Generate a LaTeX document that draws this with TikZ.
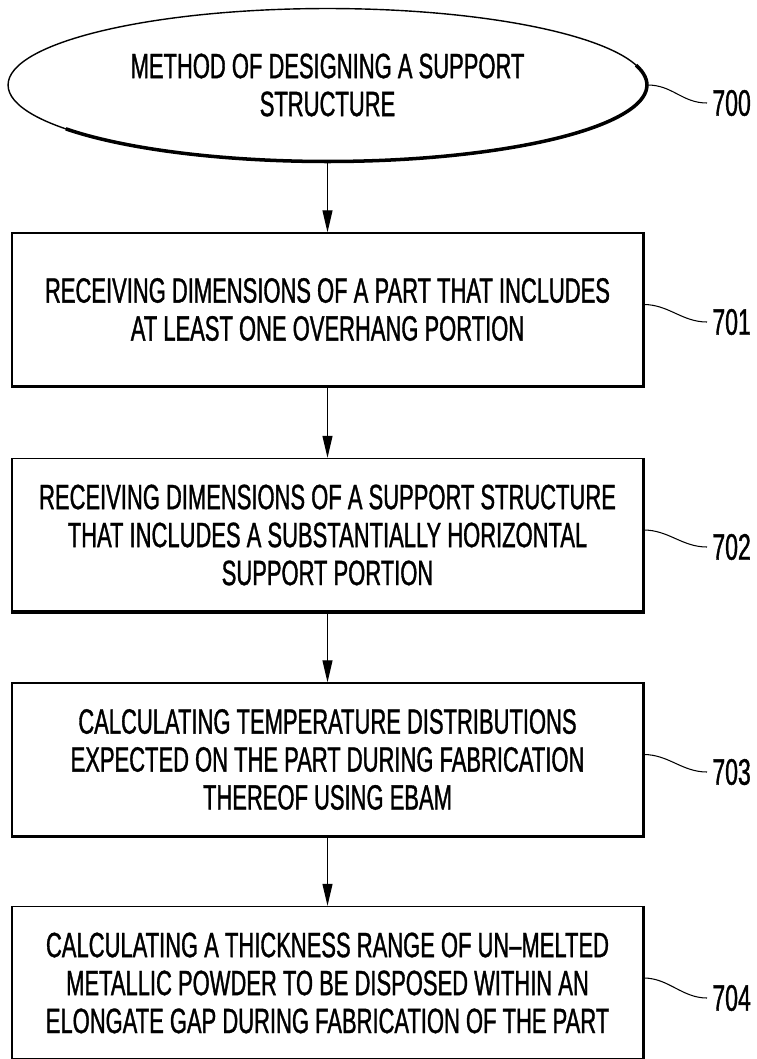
\documentclass[tikz,border=0pt]{standalone}
\usepackage{fontspec}
\setmainfont{Liberation Sans}[FakeStretch=0.625,FakeBold=1]
\usetikzlibrary{arrows.meta,shapes.geometric}

\begin{document}
\begin{tikzpicture}
    [
        x=0.02cm, y=-0.02cm,
        start_style/.style={ellipse, draw=black, line width=0.8pt, minimum width=12.78cm, minimum height=3.06cm, align=center, font=\fontsize{20pt}{21.6pt}\selectfont},
        box_style/.style={rectangle, draw=black, line width=0.8pt, minimum width=12.62cm, minimum height=3.06cm, align=center, font=\fontsize{20pt}{21.6pt}\selectfont},
        heavy_style/.style={draw=black, line width=2pt},
        arrow_style/.style={draw=black, line width=0.6pt, -{Triangle[length=4.4mm,width=2mm]}},
        lead_style/.style={draw=black, line width=0.6pt},
        num_style/.style={anchor=west, inner sep=0.1cm, font=\fontsize{21pt}{24pt}\selectfont}
    ]
        \useasboundingbox (0,0) rectangle (757,1059);

        \node[start_style] (s700) at (327.5,85) {METHOD OF DESIGNING A SUPPORT\\STRUCTURE};
        \node[box_style] (b701) at (327.5,309.5) {RECEIVING DIMENSIONS OF A PART THAT INCLUDES\\AT LEAST ONE OVERHANG PORTION};
        \node[box_style] (b702) at (327.5,535) {RECEIVING DIMENSIONS OF A SUPPORT STRUCTURE\\THAT INCLUDES A SUBSTANTIALLY HORIZONTAL\\SUPPORT PORTION};
        \node[box_style] (b703) at (327.5,759.5) {CALCULATING TEMPERATURE DISTRIBUTIONS\\EXPECTED ON THE PART DURING FABRICATION\\THEREOF USING EBAM};
        \node[box_style] (b704) at (327.5,983) {CALCULATING A THICKNESS RANGE OF UN--MELTED\\METALLIC POWDER TO BE DISPOSED WITHIN AN\\ELONGATE GAP DURING FABRICATION OF THE PART};

        % heavier lower and right sides
        \draw[heavy_style] (s700.center) ++(215:6.39cm and 1.53cm) arc[start angle=215, end angle=375, x radius=6.39cm, y radius=1.53cm];
        \foreach \b in {b701,b702,b703,b704}
            \draw[heavy_style] (\b.north east) -- (\b.south east) -- (\b.south west);

        \draw[arrow_style] (s700) edge (b701);
        \draw[arrow_style] (b701) edge (b702);
        \draw[arrow_style] (b702) edge (b703);
        \draw[arrow_style] (b703) edge (b704);

        % reference numerals
        \node[num_style] (n700) at (707,103) {700};
        \node[num_style] (n701) at (707,322) {701};
        \node[num_style] (n702) at (707,547) {702};
        \node[num_style] (n703) at (707,772) {703};
        \node[num_style] (n704) at (707,998) {704};

        \draw[lead_style] (s700.east) .. controls +(25,0) and +(-25,0) .. (n700.west);
        \draw[lead_style] ([yshift=0.1cm]b701.east) .. controls +(25,0) and +(-25,0) .. (n701.west);
        \draw[lead_style] ([yshift=0.1cm]b702.east) .. controls +(25,0) and +(-25,0) .. (n702.west);
        \draw[lead_style] ([yshift=0.1cm]b703.east) .. controls +(25,0) and +(-25,0) .. (n703.west);
        \draw[lead_style] ([yshift=0.1cm]b704.east) .. controls +(25,0) and +(-25,0) .. (n704.west);
    \end{tikzpicture}
\end{document}
